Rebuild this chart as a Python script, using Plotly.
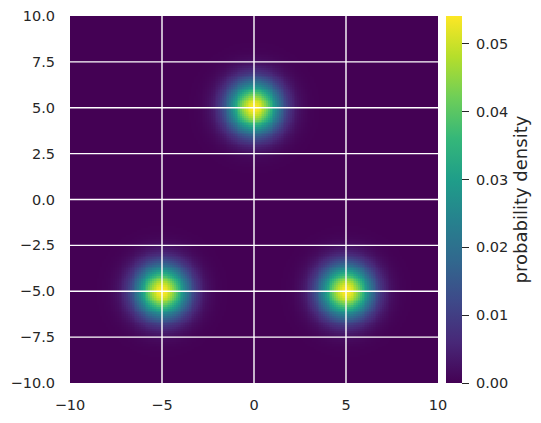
import numpy as np
import plotly.graph_objects as go

# --- mixture components ---
center_x = [0.0, -5.0, 5.0]
center_y = [5.0, -5.0, -5.0]
sigmas = [0.99, 0.99, 0.99]
weights = [1 / 3, 1 / 3, 1 / 3]

# --- axes / ticks ---
x_ticks = [-10, -5, 0, 5, 10]
y_ticks = [-10.0, -7.5, -5.0, -2.5, 0.0, 2.5, 5.0, 7.5, 10.0]
cbar_ticks = [0.00, 0.01, 0.02, 0.03, 0.04, 0.05]
cbar_label = "probability density"

# evaluation grid
grid_x = np.linspace(-10, 10, 201)
grid_y = np.linspace(-10, 10, 201)
gx, gy = np.meshgrid(grid_x, grid_y)

density = np.zeros_like(gx)
for cx, cy, s, w in zip(center_x, center_y, sigmas, weights):
    density += w * np.exp(-((gx - cx) ** 2 + (gy - cy) ** 2) / (2 * s ** 2)) / (2 * np.pi * s ** 2)

TEXT = "#262626"
FONT = "DejaVu Sans"
TICK_SIZE = 14.5

# the page body has an 8px margin, so the figure is a bit smaller than the window
fig = go.Figure()
fig.add_trace(go.Heatmap(
    x=grid_x, y=grid_y, z=density,
    colorscale="Viridis",
    zmin=0, zmax=density.max(),
    colorbar=dict(
        x=(446 - 70) / 368, xanchor="left", xpad=0,
        y=0.5, yanchor="middle", len=1, ypad=0,
        thickness=16, outlinewidth=0,
        ticks="outside", ticklen=7, tickwidth=1.3, tickcolor=TEXT,
        tickvals=cbar_ticks,
        # non-breaking space pushes the labels a little off the tick marks
        ticktext=["\u00a0%.2f" % t for t in cbar_ticks],
        tickfont=dict(family=FONT, size=TICK_SIZE, color=TEXT),
        title=dict(text=cbar_label, side="right",
                   font=dict(family=FONT, size=18, color=TEXT)),
    ),
))

# seaborn-style white grid drawn over the image
for v in x_ticks[1:-1]:
    fig.add_shape(type="line", x0=v, x1=v, y0=-10, y1=10, xref="x", yref="y",
                  line=dict(color="white", width=1.4), layer="above")
for v in y_ticks[1:-1]:
    fig.add_shape(type="line", x0=-10, x1=10, y0=v, y1=v, xref="x", yref="y",
                  line=dict(color="white", width=1.4), layer="above")

fig.update_xaxes(range=[-10, 10], tickvals=x_ticks, showgrid=False, zeroline=False,
                 showline=False, ticks="", ticklabelstandoff=11,
                 tickfont=dict(family=FONT, size=TICK_SIZE, color=TEXT))
fig.update_yaxes(range=[-10, 10], tickvals=y_ticks, tickformat=".1f", showgrid=False,
                 zeroline=False, showline=False, ticks="", ticklabelstandoff=14,
                 tickfont=dict(family=FONT, size=TICK_SIZE, color=TEXT))

fig.update_layout(
    width=525, height=407,
    margin=dict(l=62, r=95, t=8, b=32, autoexpand=False),
    paper_bgcolor="white", plot_bgcolor="#eaeaf2",
    showlegend=False,
)

fig.write_html("out.html")
